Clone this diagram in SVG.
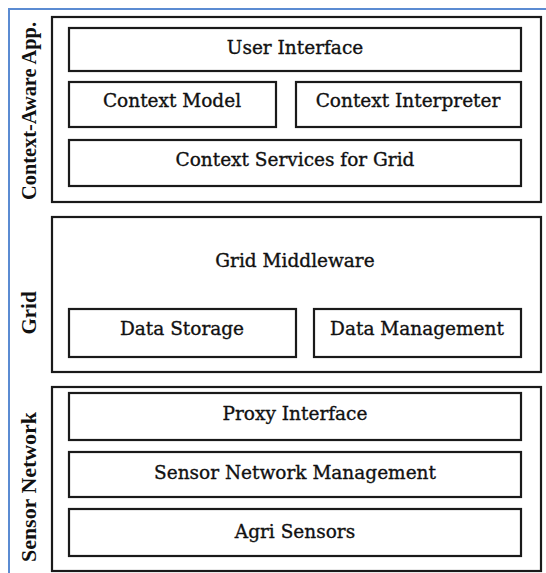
<svg xmlns="http://www.w3.org/2000/svg" width="546" height="573" viewBox="0 0 546 573">
  <style>
    .frame { fill: none; stroke: #5b8bd2; stroke-width: 2; }
    .layer { fill: #ffffff; stroke: #1a1a1a; stroke-width: 2.2; }
    .box { fill: #ffffff; stroke: #1a1a1a; stroke-width: 2.2; }
    .lbl { font-family: "DejaVu Serif", "Liberation Serif", serif; font-size: 18.5px; fill: #111111; stroke: #111111; stroke-width: 0.35; text-anchor: middle; }
    .side { font-family: "Liberation Serif", "Times New Roman", serif; font-size: 21px; font-weight: bold; fill: #111111; text-anchor: middle; }
  </style>

  <rect x="0" y="0" width="546" height="573" fill="#ffffff"/>
  <!-- page frame (top and left edges) -->
  <path class="frame" d="M9,573 V9 H546"/>

  <!-- Context-Aware application layer -->
  <g id="layer-context">
    <rect class="layer" x="52" y="17" width="489" height="185"/>
    <text class="side" transform="translate(36,111) rotate(-90)" textLength="178" lengthAdjust="spacingAndGlyphs">Context-Aware App.</text>
  </g>
  <g id="user-interface">
    <rect class="box" x="69" y="28" width="452" height="43"/>
    <text class="lbl" x="295" y="54">User Interface</text>
  </g>
  <g id="context-model">
    <rect class="box" x="69" y="82" width="207" height="45"/>
    <text class="lbl" x="172" y="107">Context Model</text>
  </g>
  <g id="context-interpreter">
    <rect class="box" x="296" y="82" width="225" height="45"/>
    <text class="lbl" x="408" y="107">Context Interpreter</text>
  </g>
  <g id="context-services">
    <rect class="box" x="69" y="140" width="452" height="46"/>
    <text class="lbl" x="295" y="166">Context Services for Grid</text>
  </g>

  <!-- Grid layer -->
  <g id="layer-grid">
    <rect class="layer" x="52" y="217" width="489" height="155"/>
    <text class="side" transform="translate(36,313) rotate(-90)">Grid</text>
    <text class="lbl" x="295" y="267">Grid Middleware</text>
  </g>
  <g id="data-storage">
    <rect class="box" x="69" y="309" width="227" height="48"/>
    <text class="lbl" x="182" y="335">Data Storage</text>
  </g>
  <g id="data-management">
    <rect class="box" x="314" y="309" width="207" height="48"/>
    <text class="lbl" x="417" y="335">Data Management</text>
  </g>

  <!-- Sensor network layer -->
  <g id="layer-sensor">
    <rect class="layer" x="52" y="387" width="489" height="184"/>
    <text class="side" transform="translate(36,487) rotate(-90)" textLength="150" lengthAdjust="spacingAndGlyphs">Sensor Network</text>
  </g>
  <g id="proxy-interface">
    <rect class="box" x="69" y="393" width="452" height="47"/>
    <text class="lbl" x="295" y="420">Proxy Interface</text>
  </g>
  <g id="sensor-network-management">
    <rect class="box" x="69" y="452" width="452" height="45"/>
    <text class="lbl" x="295" y="479">Sensor Network Management</text>
  </g>
  <g id="agri-sensors">
    <rect class="box" x="69" y="509" width="452" height="47"/>
    <text class="lbl" x="295" y="538">Agri Sensors</text>
  </g>

  <g id="connectors"/>
</svg>
